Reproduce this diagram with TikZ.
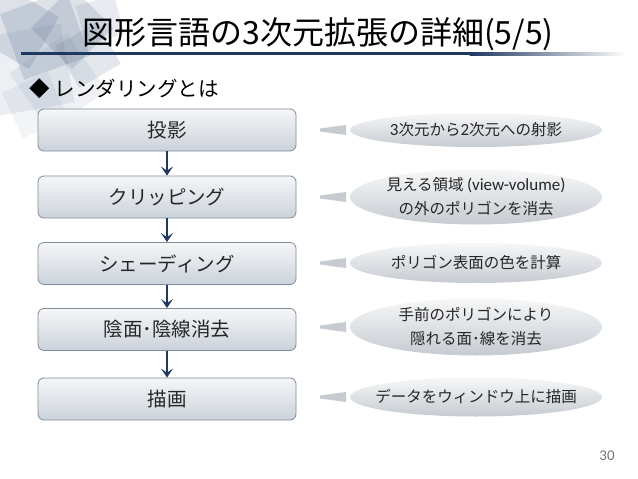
\documentclass[tikz,border=0pt]{standalone}
\usepackage{fontspec}
\setmainfont{Noto Sans CJK JP}
\newfontfamily\lat{Carlito}
\usetikzlibrary{shapes.geometric,arrows.meta,calc}
\definecolor{navy}{RGB}{31,56,96}
\definecolor{deco}{RGB}{80,104,138}
\definecolor{boxtop}{RGB}{245,246,248}
\definecolor{boxbot}{RGB}{204,210,218}
\definecolor{boxline}{RGB}{128,140,154}
\definecolor{elltop}{RGB}{246,247,248}
\definecolor{ellbot}{RGB}{198,203,209}
\definecolor{txt}{RGB}{38,38,38}
\tikzset{
  stepbox/.style={draw=boxline, line width=0.8pt, rounded corners=6pt,
    top color=boxtop, bottom color=boxbot, minimum width=258pt,
    minimum height=42pt, text=txt, font=\fontsize{19.5}{22}\selectfont},
  ellbg/.style={top color=elltop, bottom color=ellbot, draw=none},
  note/.style={draw=none, inner sep=0pt, text=txt, align=center,
    font=\fontsize{15.5}{24}\selectfont},
  flow/.style={draw=navy, line width=2.5pt, -{Stealth[length=9pt,width=12pt,inset=4pt]}},
  wedge/.style={fill=ellbot},
  sq/.style={fill=deco, draw=none}
}
\newcommand{\ltn}[1]{{\lat\fontsize{17}{24}\selectfont #1}}
\begin{document}
\begin{tikzpicture}[x=1pt,y=-1pt]
\useasboundingbox (0,0) rectangle (638,479);
\fill[white] (0,0) rectangle (638,479);
% decoration
\foreach \cx/\cy/\s/\r/\o in {45/35/70/20/0.19, 72/28/58/45/0.18, 28/70/80/10/0.1, 88/55/48/30/0.15, 18/28/60/60/0.19, 58/82/70/35/0.09, 100/20/40/15/0.13, 35/105/50/25/0.07}{
  \fill[sq, fill opacity=\o, rotate around={\r:(\cx,\cy)}] (\cx-\s/2,\cy-\s/2) rectangle (\cx+\s/2,\cy+\s/2);
}
% title
\node[font=\fontsize{32}{36}\selectfont, text=black, anchor=base] (title) at (318,45) {図形言語の3次元拡張の詳細(5/5)};
\fill[navy] (21,52) rectangle (470,55);
\shade[left color=navy, right color=white] (469.5,52) rectangle (626,55);
% bullet
\node[font=\fontsize{20.5}{24}\selectfont, text=black, anchor=west] (bullet) at (26,89) {◆ レンダリングとは};
% boxes
\node[stepbox] (b1) at (167,130) {投影};
\node[stepbox] (b2) at (167,197) {クリッピング};
\node[stepbox] (b3) at (167,263.5) {シェーディング};
\node[stepbox] (b4) at (167,329.5) {陰面･陰線消去};
\node[stepbox] (b5) at (167,399) {描画};
\draw[flow] (b1) -- (b2);
\draw[flow] (b2) -- (b3);
\draw[flow] (b3) -- (b4);
\draw[flow] (b4) -- (b5);
% note backgrounds
\foreach \y/\ry in {130/17, 197/27.5, 263/20, 327/28.5, 397/19.5}{
  \shade[ellbg] (476,\y) ellipse [x radius=126, y radius=\ry];
  \fill[wedge] (346,\y-5) -- (320,\y-1.5) -- (320,\y+1.5) -- (346,\y+5) -- cycle;
}
% notes
\node[note] (n1) at (476,130) {\ltn{3}次元から\ltn{2}次元への射影};
\node[note] (n2) at (476,197) {見える領域 \ltn{(view-volume)}\\の外のポリゴンを消去};
\node[note] (n3) at (476,263) {ポリゴン表面の色を計算};
\node[note] (n4) at (476,327) {手前のポリゴンにより\\隠れる面･線を消去};
\node[note] (n5) at (476,397) {データをウィンドウ上に描画};
% page number
\node[font=\lat\fontsize{15}{18}\selectfont, text={rgb,255:red,118;green,118;blue,118}] (pg) at (607,456) {30};
\end{tikzpicture}
\end{document}
